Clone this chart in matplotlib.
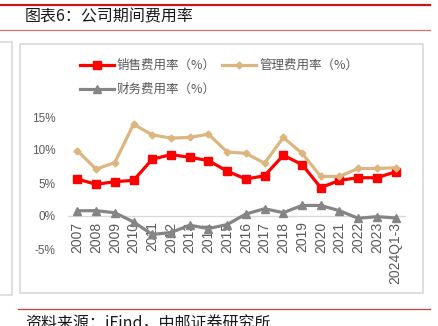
import numpy as np
import matplotlib
matplotlib.use("Agg")
import matplotlib.pyplot as plt
from matplotlib.patches import Rectangle
from matplotlib.lines import Line2D

plt.rcParams['font.family'] = ['Liberation Sans', 'Noto Sans CJK SC', 'DejaVu Sans']

years = ["2007", "2008", "2009", "2010", "2011", "2012", "2013", "2014", "2015",
         "2016", "2017", "2018", "2019", "2020", "2021", "2022", "2023", "2024Q1-3"]
sales_rate = [5.6, 4.8, 5.2, 5.4, 8.6, 9.3, 8.9, 8.4, 6.8, 5.6, 6.1, 9.2, 7.8, 4.3, 5.4, 5.8, 5.8, 6.7]
admin_rate = [9.9, 7.1, 8.1, 13.9, 12.3, 11.8, 11.9, 12.4, 9.7, 9.5, 8.0, 11.9, 9.5, 6.0, 6.0, 7.2, 7.2, 7.3]
finance_rate = [0.8, 0.8, 0.5, -0.9, -2.8, -2.5, -1.4, -1.9, -1.3, 0.3, 1.1, 0.5, 1.6, 1.6, 0.8, -0.35, -0.1, -0.3]
y_ticks = [-5, 0, 5, 10, 15]

W, H = 439, 326
fig = plt.figure(figsize=(W / 100, H / 100), dpi=100)

def px(x0, y0, x1, y1):
    # pixel box (top-left origin) -> figure fraction rect
    return [x0 / W, 1 - y1 / H, (x1 - x0) / W, (y1 - y0) / H]

# frame decorations
fig.add_artist(Line2D([0, 430 / W], [1 - 5 / H] * 2, color='#c8161d', lw=1.6))
fig.add_artist(Line2D([0, 430 / W], [1 - 29.5 / H] * 2, color='#e07070', lw=0.9))
fig.add_artist(Line2D([18 / W, 430 / W], [1 - 309 / H] * 2, color='#d04040', lw=0.9))
fig.text(25 / W, 1 - 17 / H, "图表6：公司期间费用率", fontsize=11.5, va='center', ha='left',
         color='#1a1a1a', family=['Noto Sans CJK SC', 'DejaVu Sans'])
fig.text(25 / W, 1 - 316 / H, "资料来源：iFind，中邮证券研究所", fontsize=11.5, va='top', ha='left',
         color='#1a1a1a', family=['Noto Sans CJK SC', 'DejaVu Sans'])
fig.add_artist(Rectangle((20 / W, 1 - 293 / H), 403 / W, 249 / H, transform=fig.transFigure,
                         fill=False, edgecolor='#d9d9d9', lw=1.2))
fig.add_artist(Rectangle((-10 / W, 1 - 295 / H), 22 / W, 253 / H, transform=fig.transFigure,
                         fill=False, edgecolor='#d9d9d9', lw=1.2))

ax = fig.add_axes(px(68, 117, 405, 249))
x = np.arange(len(years))
l1, = ax.plot(x, sales_rate, color='#ff0000', lw=2.3, marker='s', ms=6, label='销售费用率（%）')
l2, = ax.plot(x, admin_rate, color='#ddb57e', lw=2.3, marker='D', ms=3.5, label='管理费用率（%）')
l3, = ax.plot(x, finance_rate, color='#858585', lw=2.3, marker='^', ms=6, label='财务费用率（%）')

ax.set_xlim(-0.5, len(years) - 0.5)
ax.set_ylim(-5, 15)
for s in ['top', 'right', 'left']:
    ax.spines[s].set_visible(False)
ax.spines['bottom'].set_position(('data', 0))
ax.spines['bottom'].set_color('#d9d9d9')
ax.spines['bottom'].set_linewidth(1.0)
ax.spines['bottom'].set_zorder(0)
ax.set_yticks(y_ticks)
ax.set_yticklabels([f"{v}%" for v in y_ticks])
ax.set_xticks(x)
ax.set_xticklabels(years)
ax.tick_params(axis='y', length=0, pad=9, labelsize=8.5, labelcolor='#595959')
ax.tick_params(axis='x', length=0, pad=4, labelsize=10, labelcolor='#595959', labelrotation=90)

# column-wise fill: sales / finance in column 1, admin in column 2
fig.legend(handles=[l1, l3, l2], ncol=2, loc='upper left',
           bbox_to_anchor=(80 / W, 1 - 59 / H), frameon=False,
           prop={'family': ['Noto Sans CJK SC', 'DejaVu Sans'], 'size': 9},
           labelcolor='#595959', handlelength=2.7, handletextpad=0.25,
           columnspacing=0.5, labelspacing=0.9, borderaxespad=0, borderpad=0)

fig.savefig("out.png", dpi=100)
